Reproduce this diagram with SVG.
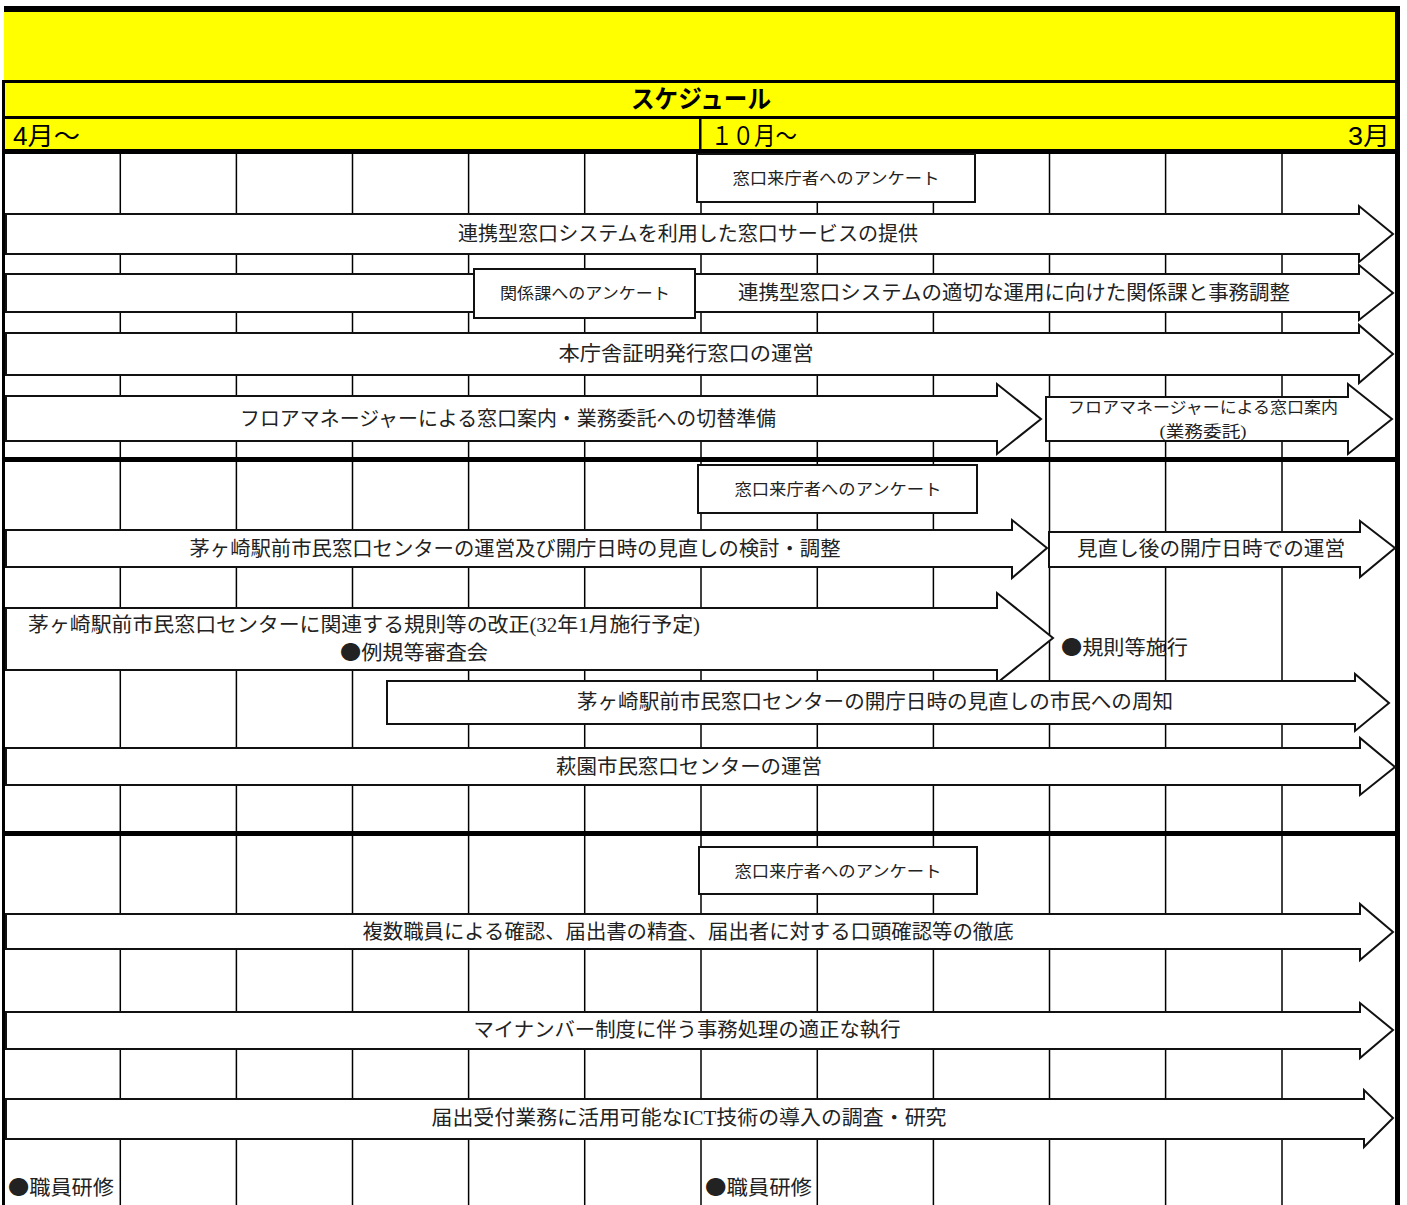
<svg xmlns="http://www.w3.org/2000/svg" width="1407" height="1205" viewBox="0 0 1407 1205">
<style>
.yel{fill:#FFFF00}
.blk{fill:#000}
.grid line{stroke:#000;stroke-width:1.5}
.arr{fill:#fff;stroke:#111;stroke-width:2;stroke-linejoin:miter}
.box{fill:#fff;stroke:#111;stroke-width:2}
.t{font-family:"Liberation Serif","Noto Sans CJK JP",serif;font-size:20px;fill:#222;text-anchor:middle}
.ts{font-family:"Liberation Serif","Noto Sans CJK JP",serif;font-size:16px;fill:#222;text-anchor:middle}
.tl{font-family:"Liberation Serif","Noto Sans CJK JP",serif;font-size:20px;fill:#222}
.b{font-family:"Noto Sans CJK JP",sans-serif}
.h{font-family:"Liberation Sans","Noto Sans CJK JP",sans-serif;font-size:25px;fill:#000}
</style>
<rect width="1407" height="1205" fill="#fff"/>
<g id="header">
<rect class="yel" x="4" y="12" width="1392" height="68"/>
<rect class="blk" x="4" y="6" width="1396" height="6"/>
<rect class="yel" x="4" y="83" width="1392" height="34"/>
<rect class="blk" x="2" y="80" width="1396" height="3"/>
<rect class="yel" x="4" y="118" width="1392" height="32"/>
<rect class="blk" x="2" y="116" width="1396" height="3"/>
<rect class="blk" x="699" y="118" width="2.5" height="32"/>
<rect class="blk" x="2" y="149" width="1396" height="5"/>
<text class="h" x="701" y="108" text-anchor="middle" font-weight="bold" textLength="140" lengthAdjust="spacingAndGlyphs">スケジュール</text>
<text class="h" x="13" y="145" font-size="27" textLength="67" lengthAdjust="spacingAndGlyphs">4月～</text>
<text class="h" x="711" y="145" font-size="27" textLength="86" lengthAdjust="spacingAndGlyphs">１０月～</text>
<text class="h" x="1348" y="145" font-size="27" textLength="42" lengthAdjust="spacingAndGlyphs">3月</text>
</g>
<g id="grid" class="grid">
<line x1="120.3" y1="154" x2="120.3" y2="1205"/>
<line x1="236.4" y1="154" x2="236.4" y2="1205"/>
<line x1="352.5" y1="154" x2="352.5" y2="1205"/>
<line x1="468.6" y1="154" x2="468.6" y2="1205"/>
<line x1="584.7" y1="154" x2="584.7" y2="1205"/>
<line x1="701" y1="154" x2="701" y2="1205"/>
<line x1="817.3" y1="154" x2="817.3" y2="1205"/>
<line x1="933.4" y1="154" x2="933.4" y2="1205"/>
<line x1="1049.5" y1="154" x2="1049.5" y2="1205"/>
<line x1="1165.6" y1="154" x2="1165.6" y2="1205"/>
<line x1="1282" y1="154" x2="1282" y2="1205"/>
</g>
<g id="borders">
<rect class="blk" x="2" y="457" width="1396" height="5"/>
<rect class="blk" x="2" y="831" width="1396" height="5"/>
<rect class="blk" x="2" y="80" width="3" height="1125"/>
<rect class="blk" x="1395" y="6" width="5" height="1199"/>
</g>
<g id="n-survey1">
<rect class="box" x="697" y="154" width="278" height="48"/>
<text class="ts" x="836" y="184" textLength="207" lengthAdjust="spacingAndGlyphs">窓口来庁者へのアンケート</text>
</g>
<g id="n-a1">
<polygon class="arr" points="6,214 1359,214 1359,206 1393,234 1359,262 1359,254 6,254"/>
<text class="t" x="688" y="241" textLength="460" lengthAdjust="spacingAndGlyphs">連携型窓口システムを利用した窓口サービスの提供</text>
</g>
<g id="n-a2">
<polygon class="arr" points="6,274 1359,274 1359,265 1393,293 1359,320 1359,312 6,312"/>
<text class="t" x="1014" y="300" textLength="552" lengthAdjust="spacingAndGlyphs">連携型窓口システムの適切な運用に向けた関係課と事務調整</text>
</g>
<g id="n-survey2">
<rect class="box" x="474" y="269" width="221" height="49"/>
<text class="ts" x="585" y="299" textLength="170" lengthAdjust="spacingAndGlyphs">関係課へのアンケート</text>
</g>
<g id="n-a3">
<polygon class="arr" points="6,333 1359,333 1359,325 1393,354 1359,383 1359,375 6,375"/>
<text class="t" x="686" y="361" textLength="255" lengthAdjust="spacingAndGlyphs">本庁舎証明発行窓口の運営</text>
</g>
<g id="n-a4">
<polygon class="arr" points="6,396 997,396 997,384 1041,419 997,454 997,441 6,441"/>
<text class="t" x="508" y="426" textLength="536" lengthAdjust="spacingAndGlyphs">フロアマネージャーによる窓口案内・業務委託への切替準備</text>
</g>
<g id="n-a5">
<polygon class="arr" points="1046,397 1348,397 1348,384 1392,419 1348,454 1348,441 1046,441"/>
<text class="ts" x="1203" y="413" textLength="270" lengthAdjust="spacingAndGlyphs">フロアマネージャーによる窓口案内</text>
<text class="ts" x="1203" y="437" textLength="87" lengthAdjust="spacingAndGlyphs">(業務委託)</text>
</g>
<g id="n-survey3">
<rect class="box" x="698" y="465" width="279" height="48"/>
<text class="ts" x="838" y="495" textLength="207" lengthAdjust="spacingAndGlyphs">窓口来庁者へのアンケート</text>
</g>
<g id="n-a6">
<polygon class="arr" points="6,530 1012,530 1012,520 1047,548 1012,578 1012,567 6,567"/>
<text class="t" x="515" y="556" textLength="651" lengthAdjust="spacingAndGlyphs">茅ヶ崎駅前市民窓口センターの運営及び開庁日時の見直しの検討・調整</text>
</g>
<g id="n-a7">
<polygon class="arr" points="1049,532 1360,532 1360,521 1395,548 1360,577 1360,567 1049,567"/>
<text class="t" x="1211" y="556" textLength="268" lengthAdjust="spacingAndGlyphs">見直し後の開庁日時での運営</text>
</g>
<g id="n-a8">
<polygon class="arr" points="6,608 997,608 997,593 1053,638 997,683 997,670 6,670"/>
<text class="tl" x="28" y="632" textLength="672" lengthAdjust="spacingAndGlyphs">茅ヶ崎駅前市民窓口センターに関連する規則等の改正(32年1月施行予定)</text>
<text class="tl" x="340" y="660" textLength="148" lengthAdjust="spacingAndGlyphs"><tspan class="b">●</tspan>例規等審査会</text>
</g>
<g id="n-enforce">
<text class="tl" x="1061" y="655" textLength="127" lengthAdjust="spacingAndGlyphs"><tspan class="b">●</tspan>規則等施行</text>
</g>
<g id="n-a9">
<polygon class="arr" points="387,681 1355,681 1355,674 1389,703 1355,731 1355,724 387,724"/>
<text class="t" x="875" y="709" textLength="596" lengthAdjust="spacingAndGlyphs">茅ヶ崎駅前市民窓口センターの開庁日時の見直しの市民への周知</text>
</g>
<g id="n-a10">
<polygon class="arr" points="6,748 1360,748 1360,738 1395,767 1360,795 1360,785 6,785"/>
<text class="t" x="689" y="774" textLength="266" lengthAdjust="spacingAndGlyphs">萩園市民窓口センターの運営</text>
</g>
<g id="n-survey4">
<rect class="box" x="699" y="847" width="278" height="47"/>
<text class="ts" x="838" y="877" textLength="207" lengthAdjust="spacingAndGlyphs">窓口来庁者へのアンケート</text>
</g>
<g id="n-a11">
<polygon class="arr" points="6,914 1360,914 1360,904 1393,932 1360,960 1360,949 6,949"/>
<text class="t" x="688" y="939" textLength="651" lengthAdjust="spacingAndGlyphs">複数職員による確認、届出書の精査、届出者に対する口頭確認等の徹底</text>
</g>
<g id="n-a12">
<polygon class="arr" points="6,1012 1360,1012 1360,1003 1393,1030 1360,1058 1360,1049 6,1049"/>
<text class="t" x="687" y="1037" textLength="427" lengthAdjust="spacingAndGlyphs">マイナンバー制度に伴う事務処理の適正な執行</text>
</g>
<g id="n-a13">
<polygon class="arr" points="6,1099 1364,1099 1364,1090 1393,1118 1364,1147 1364,1139 6,1139"/>
<text class="t" x="689" y="1125" textLength="515" lengthAdjust="spacingAndGlyphs">届出受付業務に活用可能なICT技術の導入の調査・研究</text>
</g>
<g id="n-training1">
<text class="tl" x="8" y="1195" textLength="106" lengthAdjust="spacingAndGlyphs"><tspan class="b">●</tspan>職員研修</text>
</g>
<g id="n-training2">
<text class="tl" x="705" y="1195" textLength="107" lengthAdjust="spacingAndGlyphs"><tspan class="b">●</tspan>職員研修</text>
</g>
<g id="connectors"/>
</svg>
